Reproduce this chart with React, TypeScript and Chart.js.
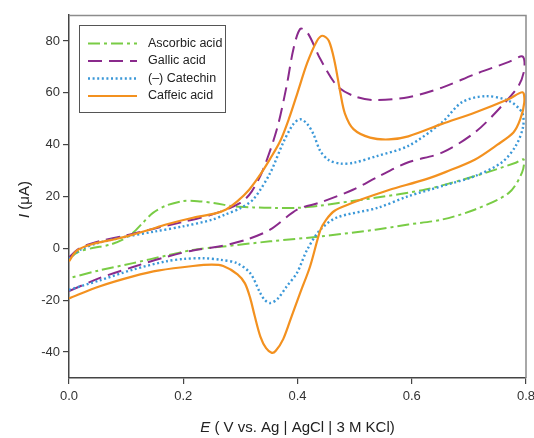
import React, { useEffect, useRef } from "react";
import { Chart, registerables } from "chart.js";

Chart.register(...registerables);

const seriesNames = ["Ascorbic acid", "Gallic acid", "(\u2013) Catechin", "Caffeic acid"];
const seriesColors = ["#79cc45", "#8a2a8c", "#3b98d8", "#f3911f"];

const xTicks = [0, 0.2, 0.4, 0.6, 0.8];
const yTicks = [-40, -20, 0, 20, 40, 60, 80];

// Ascorbic acid (potential V, current µA)
const ascorbicE = [0, 0.018, 0.041, 0.071, 0.094, 0.112, 0.129, 0.147, 0.17, 0.199, 0.225, 0.256, 0.288, 0.323, 0.36, 0.399, 0.44, 0.469, 0.536, 0.624, 0.711, 0.782, 0.796, 0.793, 0.77, 0.711, 0.653, 0.594, 0.536, 0.44, 0.352, 0.265, 0.217, 0.17, 0.112, 0.053, 0];
const ascorbicI = [-3.7, -1.2, 0.1, 1.4, 3.4, 6, 9.8, 13.7, 16.5, 18.2, 18.2, 17.4, 16.2, 15.8, 15.6, 15.6, 16.5, 17.4, 19.5, 22.7, 27.9, 33, 34.3, 29.2, 21.4, 15, 11.1, 9.2, 7.2, 4.6, 2.7, 0.6, -0.6, -2.8, -5.7, -8.5, -11.5];

// Gallic acid
const gallicE = [0, 0.015, 0.03, 0.053, 0.1, 0.145, 0.2, 0.25, 0.3, 0.32, 0.34, 0.364, 0.381, 0.393, 0.405, 0.418, 0.44, 0.469, 0.498, 0.533, 0.594, 0.653, 0.711, 0.77, 0.794, 0.797, 0.787, 0.758, 0.711, 0.653, 0.594, 0.54, 0.498, 0.44, 0.4, 0.352, 0.311, 0.265, 0.217, 0.17, 0.112, 0.053, 0];
const gallicI = [-3.5, -0.5, 1.2, 2.8, 5, 7.4, 10.2, 13, 17.5, 22, 30.5, 46, 62.7, 77, 84.7, 83, 73, 62.7, 58.8, 57.2, 58.3, 62, 67.2, 71.9, 74, 69, 62.7, 55, 44.8, 36.9, 33.2, 27.5, 22.7, 17.7, 15, 7.2, 3.4, 0.8, -0.8, -3.3, -7.2, -11.5, -16.5];

// (–) Catechin
const catechinE = [0, 0.02, 0.05, 0.1, 0.15, 0.2, 0.25, 0.273, 0.3, 0.323, 0.352, 0.375, 0.393, 0.405, 0.417, 0.428, 0.44, 0.455, 0.475, 0.498, 0.539, 0.594, 0.653, 0.688, 0.729, 0.77, 0.793, 0.795, 0.782, 0.758, 0.711, 0.653, 0.594, 0.54, 0.469, 0.44, 0.417, 0.399, 0.381, 0.365, 0.352, 0.343, 0.335, 0.317, 0.294, 0.265, 0.235, 0.2, 0.17, 0.112, 0.053, 0];
const catechinI = [-4, -0.5, 2, 4.5, 6.5, 8.5, 11, 13, 15.5, 19, 29, 40.8, 48, 49.8, 48, 44, 37.5, 34, 32.7, 33, 35.6, 39.5, 48.6, 56.4, 58.7, 56.9, 52.4, 47, 39.5, 33.2, 27.9, 24, 20.1, 15.6, 11.9, 7.2, -0.5, -9.5, -14.7, -19.5, -21.1, -20, -17.3, -9.5, -5.7, -4.4, -3.8, -4.1, -5, -8.2, -12.4, -16];

// Caffeic acid
const caffeicE = [0, 0.012, 0.029, 0.053, 0.082, 0.112, 0.141, 0.17, 0.217, 0.256, 0.275, 0.294, 0.315, 0.335, 0.352, 0.37, 0.385, 0.4, 0.417, 0.434, 0.444, 0.455, 0.465, 0.475, 0.483, 0.498, 0.527, 0.56, 0.594, 0.653, 0.711, 0.77, 0.794, 0.797, 0.79, 0.778, 0.75, 0.711, 0.66, 0.624, 0.56, 0.52, 0.49, 0.465, 0.45, 0.44, 0.422, 0.405, 0.39, 0.375, 0.362, 0.355, 0.345, 0.335, 0.325, 0.317, 0.308, 0.295, 0.27, 0.25, 0.217, 0.158, 0.112, 0.053, 0];
const caffeicI = [-5, -1.2, 0.8, 2.3, 3.6, 5.3, 7.2, 9.2, 11.8, 13.5, 15, 18, 22.5, 28.5, 34.5, 41.5, 50, 60, 71.5, 80, 82, 80, 72, 60, 52, 46, 42.7, 42, 43.2, 48, 52.4, 57.6, 60.2, 56.3, 49.8, 44.7, 40, 34.3, 29.5, 26.6, 22.5, 19.5, 17, 14.5, 11, 7, -7, -17, -26, -35, -39.5, -40.3, -38.5, -34, -26, -19, -13.5, -10, -6.8, -6.3, -6.8, -8.5, -10.8, -14.7, -19.3];

const seriesE = [ascorbicE, gallicE, catechinE, caffeicE];
const seriesI = [ascorbicI, gallicI, catechinI, caffeicI];
const seriesDash = [[12, 4, 3, 4], [14, 7], [2, 2.6], []];
const seriesWidth = [2, 2, 2.4, 2.2];

const FONT = "'Liberation Sans', Arial, Helvetica, sans-serif";

const decorPlugin = {
  id: "decor",
  afterDraw(chart: any) {
    const ctx = chart.ctx;
    const a = chart.chartArea;
    ctx.save();
    // top & right frame
    ctx.strokeStyle = "#8c8c8c";
    ctx.lineWidth = 1.5;
    ctx.beginPath();
    ctx.moveTo(a.left, a.top + 0.5);
    ctx.lineTo(a.right, a.top + 0.5);
    ctx.lineTo(a.right, a.bottom);
    ctx.stroke();

    // legend
    const lx = 79.5, ly = 25.5, lw = 146, lh = 87;
    ctx.fillStyle = "#ffffff";
    ctx.fillRect(lx, ly, lw, lh);
    ctx.strokeStyle = "#555555";
    ctx.lineWidth = 1;
    ctx.strokeRect(lx, ly, lw, lh);
    const rows = [43.5, 61, 78.5, 96];
    chart.data.datasets.forEach((ds: any, i: number) => {
      const y = rows[i];
      ctx.strokeStyle = ds.borderColor;
      ctx.lineWidth = ds.borderWidth;
      ctx.setLineDash(ds.borderDash || []);
      ctx.beginPath();
      ctx.moveTo(88, y);
      ctx.lineTo(137, y);
      ctx.stroke();
      ctx.setLineDash([]);
      ctx.fillStyle = "#222222";
      ctx.font = `12.5px ${FONT}`;
      ctx.textBaseline = "middle";
      ctx.textAlign = "left";
      ctx.fillText(ds.label, 148, y);
    });

    // axis titles
    ctx.fillStyle = "#222222";
    ctx.textBaseline = "middle";
    ctx.textAlign = "left";
    const xt1 = "E";
    const xt2 = " ( V vs. Ag | AgCl | 3 M KCl)";
    ctx.font = `italic 15px ${FONT}`;
    const w1 = ctx.measureText(xt1).width;
    ctx.font = `15px ${FONT}`;
    const w2 = ctx.measureText(xt2).width;
    const cx = (a.left + a.right) / 2;
    let sx = cx - (w1 + w2) / 2;
    ctx.font = `italic 15px ${FONT}`;
    ctx.fillText(xt1, sx, 428);
    ctx.font = `15px ${FONT}`;
    ctx.fillText(xt2, sx + w1, 428);

    ctx.translate(25, (a.top + a.bottom) / 2 + 3);
    ctx.rotate(-Math.PI / 2);
    const yt1 = "I";
    const yt2 = " (\u03bcA)";
    ctx.font = `italic 15px ${FONT}`;
    const v1 = ctx.measureText(yt1).width;
    ctx.font = `15px ${FONT}`;
    const v2 = ctx.measureText(yt2).width;
    sx = -(v1 + v2) / 2;
    ctx.font = `italic 15px ${FONT}`;
    ctx.fillText(yt1, sx, 0);
    ctx.font = `15px ${FONT}`;
    ctx.fillText(yt2, sx + v1, 0);
    ctx.restore();
  },
};

export default function App() {
  const ref = useRef<HTMLCanvasElement | null>(null);
  useEffect(() => {
    if (!ref.current) return;
    const datasets = seriesNames.map((name, i) => ({
      label: name,
      data: seriesE[i].map((e, k) => ({ x: e, y: seriesI[i][k] })),
      borderColor: seriesColors[i],
      backgroundColor: seriesColors[i],
      borderWidth: seriesWidth[i],
      borderDash: seriesDash[i],
      showLine: true,
      pointRadius: 0,
      tension: 0.3,
      fill: false,
      order: 4 - i,
    }));
    const chart = new Chart(ref.current, {
      type: "scatter",
      data: { datasets },
      plugins: [decorPlugin],
      options: {
        animation: false,
        responsive: false,
        maintainAspectRatio: false,
        layout: { padding: { top: 15, right: 8, left: 0, bottom: 0 } },
        plugins: { legend: { display: false }, tooltip: { enabled: false } },
        scales: {
          x: {
            type: "linear",
            min: 0,
            max: 0.8,
            afterBuildTicks: (s: any) => { s.ticks = xTicks.map((v) => ({ value: v })); },
            afterFit: (s: any) => { s.height = 60; s.paddingLeft = 0; s.paddingRight = 0; },
            grid: { display: true, drawOnChartArea: false, drawTicks: true, tickLength: 6, color: "#444444", lineWidth: 1.2 },
            border: { display: true, color: "#444444", width: 1.5 },
            ticks: { color: "#333333", font: { family: FONT, size: 13 }, padding: 5, maxRotation: 0, callback: (v: any) => Number(v).toFixed(1) },
          },
          y: {
            type: "linear",
            min: -50,
            max: 90,
            afterBuildTicks: (s: any) => { s.ticks = yTicks.map((v) => ({ value: v })); },
            afterFit: (s: any) => { s.width = 69; s.paddingTop = 0; s.paddingBottom = 0; },
            grid: { display: true, drawOnChartArea: false, drawTicks: true, tickLength: 6, color: "#444444", lineWidth: 1.2 },
            border: { display: true, color: "#444444", width: 1.5 },
            ticks: { color: "#333333", font: { family: FONT, size: 13 }, padding: 3, callback: (v: any) => String(v) },
          },
        },
      } as any,
    });
    return () => chart.destroy();
  }, []);
  return (
    <div style={{ position: "fixed", left: 0, top: 0, width: 534, height: 438, background: "#fff" }}>
      <canvas ref={ref} width={534} height={438} />
    </div>
  );
}
